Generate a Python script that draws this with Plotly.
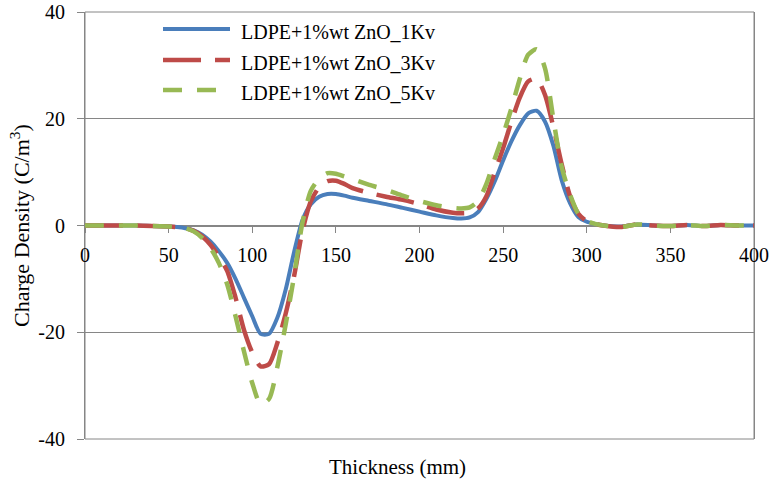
import plotly.graph_objects as go

# Thickness positions (mm) and charge density profiles (C/m^3)
thickness = [0, 10, 20, 30, 40, 50, 55, 60, 65, 70, 75, 80, 85, 90, 95, 100, 105, 110,
             115, 120, 125, 130, 135, 140, 145, 150, 155, 160, 170, 180, 190, 200, 210,
             220, 225, 230, 235, 240, 245, 250, 255, 260, 265, 270, 275, 280, 285, 290,
             295, 300, 305, 310, 320, 330, 340, 350, 360, 370, 380, 390, 400]

rho_1kv = [0.0, 0.0, 0.0, 0.0, -0.1, -0.2, -0.3, -0.5, -0.9, -1.7, -3.0, -4.8, -7.0, -10.0,
           -13.5, -17.0, -20.3, -20.3, -17.3, -12.0, -5.0, 1.0, 4.0, 5.4, 5.9, 5.9, 5.6,
           5.2, 4.6, 4.0, 3.3, 2.6, 1.9, 1.4, 1.3, 1.5, 2.5, 5.0, 8.3, 12.2, 15.8, 18.8,
           21.0, 21.5, 19.5, 15.0, 8.5, 4.2, 1.6, 0.7, 0.3, 0.0, -0.2, 0.2, 0.0, -0.1, 0.1,
           -0.1, 0.1, 0.0, 0.0]

rho_3kv = [0.0, 0.0, 0.0, 0.0, -0.1, -0.2, -0.3, -0.5, -1.0, -2.0, -3.6, -5.8, -8.5, -13.5,
           -19.5, -23.8, -26.4, -26.0, -22.0, -16.5, -9.5, -1.0, 4.5, 7.2, 8.3, 8.4, 7.8,
           7.0, 6.1, 5.4, 4.8, 4.0, 3.0, 2.4, 2.3, 2.4, 3.2, 5.5, 10.0, 14.5, 19.5, 24.0,
           27.0, 27.5, 24.5, 18.5, 11.5, 5.5, 2.2, 0.8, 0.3, 0.0, -0.3, 0.2, 0.0, -0.1,
           0.1, -0.1, 0.1, 0.0, 0.0]

rho_5kv = [0.0, 0.0, 0.0, 0.0, -0.1, -0.2, -0.3, -0.5, -1.1, -2.3, -4.2, -7.0, -11.0, -17.0,
           -23.5, -29.5, -33.5, -32.5, -26.5, -18.5, -9.5, 0.5, 6.5, 8.8, 9.8, 9.7, 9.2,
           8.7, 7.6, 6.7, 5.6, 4.6, 3.8, 3.3, 3.2, 3.4, 4.6, 7.8, 12.5, 17.0, 22.0, 27.5,
           32.0, 33.0, 29.5, 20.0, 11.0, 5.8, 2.2, 0.9, 0.3, 0.0, -0.3, 0.2, 0.0, -0.1,
           0.1, -0.1, 0.1, 0.0, 0.0]

series_names = ["LDPE+1%wt ZnO_1Kv", "LDPE+1%wt ZnO_3Kv", "LDPE+1%wt ZnO_5Kv"]
series_values = [rho_1kv, rho_3kv, rho_5kv]
series_colors = ["#4A7EBB", "#BE4B48", "#98B954"]
series_dashes = ["solid", "38px,14px", "19px,15px"]
series_widths = [4, 4.5, 4.5]

x_ticks = [0, 50, 100, 150, 200, 250, 300, 350, 400]
y_ticks = [-40, -20, 0, 20, 40]

W, H = 773, 488
L, R, T, B = 85, 19, 12, 49
plot_w, plot_h = W - L - R, H - T - B

FONT = "Liberation Serif, Times New Roman, serif"
GRID = "#868686"


def px_x(px):
    return (px - L) / plot_w


def px_y(py):
    return (H - B - py) / plot_h


fig = go.Figure()
for name, vals, col, dash, w in zip(series_names, series_values, series_colors,
                                    series_dashes, series_widths):
    fig.add_trace(go.Scatter(
        x=thickness, y=vals, mode="lines", name=name,
        line=dict(color=col, width=w, dash=dash, shape="spline", smoothing=0.7),
        showlegend=False,
    ))

# frame around the plotting area
fig.add_shape(type="rect", xref="paper", yref="paper", x0=0, x1=1, y0=0, y1=1,
              line=dict(color=GRID, width=1), layer="below")

# legend drawn inside the plot area
legend_rows = [29, 60, 90]
for name, col, dash, w, row in zip(series_names, series_colors, series_dashes,
                                   series_widths, legend_rows):
    fig.add_shape(type="line", xref="paper", yref="paper",
                  x0=px_x(163), x1=px_x(230), y0=px_y(row), y1=px_y(row),
                  line=dict(color=col, width=w, dash=dash))
    fig.add_annotation(text=name, xref="paper", yref="paper",
                       x=px_x(239), y=px_y(row + 3), xanchor="left", yanchor="middle",
                       showarrow=False, font=dict(family=FONT, size=20, color="black"))

# axis titles
fig.add_annotation(text="Thickness (mm)", xref="paper", yref="paper",
                   x=px_x(397), y=px_y(467), xanchor="center", yanchor="middle",
                   showarrow=False, font=dict(family=FONT, size=21, color="black"))
fig.add_annotation(text="Charge Density (C/m<sup>3</sup>)", xref="paper", yref="paper",
                   x=px_x(20), y=px_y(226), xanchor="center", yanchor="middle",
                   textangle=-90, showarrow=False,
                   font=dict(family=FONT, size=22, color="black"))

fig.update_layout(
    width=W, height=H,
    margin=dict(l=L, r=R, t=T, b=B, pad=0, autoexpand=False),
    paper_bgcolor="white", plot_bgcolor="white",
    font=dict(family=FONT, size=20, color="black"),
    showlegend=False,
)

fig.update_xaxes(
    range=[0, 400], tickvals=x_ticks, ticktext=[str(v) for v in x_ticks],
    anchor="free", position=0.5, showline=True, linecolor=GRID, linewidth=1,
    ticks="outside", ticklen=6, tickcolor=GRID, ticklabelstandoff=5,
    showgrid=False, zeroline=False, layer="below traces", automargin=False,
    tickfont=dict(family=FONT, size=20, color="black"),
)
fig.update_yaxes(
    range=[-40, 40], tickvals=y_ticks, ticktext=[str(v) for v in y_ticks],
    showline=True, linecolor=GRID, linewidth=1, mirror=True,
    ticks="outside", ticklen=7, tickcolor=GRID, ticklabelstandoff=8,
    showgrid=True, gridcolor=GRID, gridwidth=1, zeroline=False,
    layer="below traces", automargin=False,
    tickfont=dict(family=FONT, size=20, color="black"),
)

fig.write_html("out.html")
